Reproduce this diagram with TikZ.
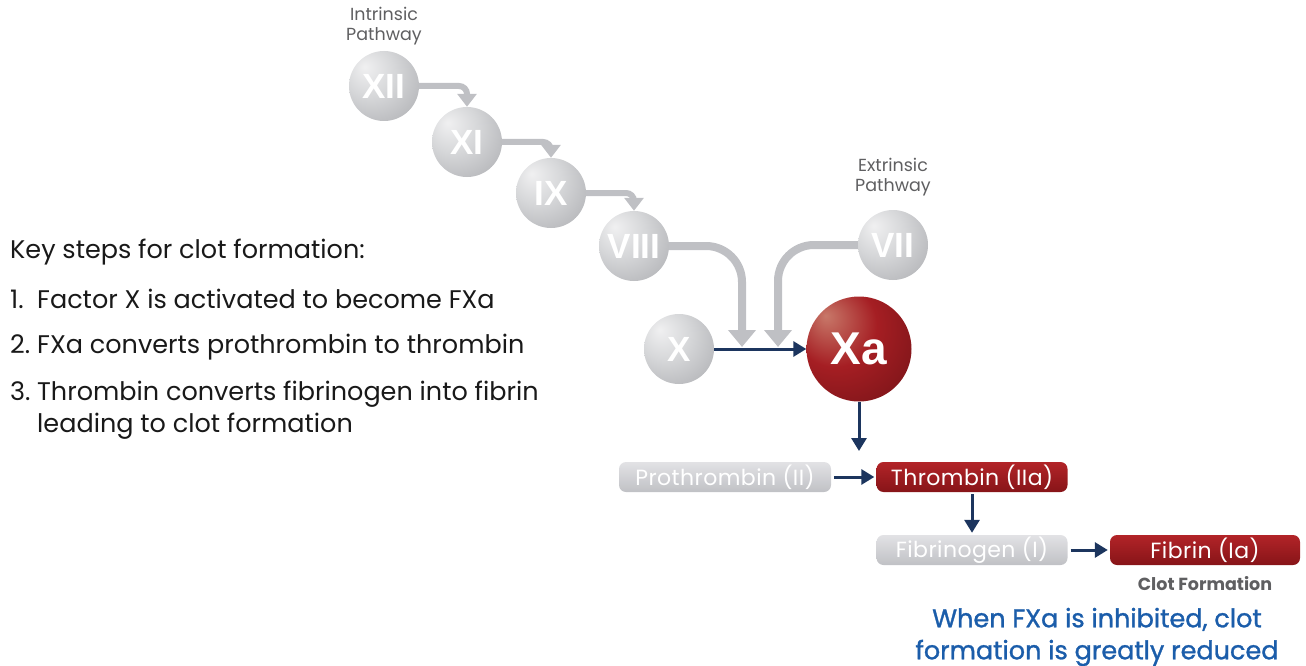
\documentclass[tikz,border=0pt]{standalone}
\usepackage{fontspec}
\setmainfont{Poppins}
\newfontfamily\numfont{Liberation Sans}
\newfontfamily\boxfont{Poppins}[LetterSpace=2]
\newfontfamily\blufont{Poppins}[FakeBold=1.2]
\usetikzlibrary{arrows.meta,positioning}
\definecolor{CoagNavy}{RGB}{28,53,94}
\definecolor{CoagGrey}{RGB}{191,192,196}
\definecolor{CoagBlue}{RGB}{27,93,170}
\definecolor{CoagLabel}{RGB}{95,95,97}
\definecolor{CoagText}{RGB}{25,25,25}
\definecolor{BallLight}{RGB}{240,240,241}
\definecolor{BallMid}{RGB}{214,215,217}
\definecolor{BallDark}{RGB}{165,166,170}
\definecolor{RedLight}{RGB}{200,120,105}
\definecolor{RedMid}{RGB}{165,30,35}
\definecolor{RedDark}{RGB}{105,16,20}
\definecolor{BoxGreyTop}{RGB}{226,226,229}
\definecolor{BoxGreyBot}{RGB}{192,193,197}
\definecolor{BoxRedTop}{RGB}{178,36,40}
\definecolor{BoxRedBot}{RGB}{135,20,24}
\pgfdeclareradialshading{GreyBall}{\pgfpoint{-14bp}{14bp}}{color(0bp)=(BallLight); color(18bp)=(BallMid); color(48bp)=(BallDark); color(70bp)=(BallDark)}
\pgfdeclareradialshading{RedBall}{\pgfpoint{-16bp}{16bp}}{color(0bp)=(RedLight); color(20bp)=(RedMid); color(50bp)=(RedDark); color(70bp)=(RedDark)}

\begin{document}
\begin{tikzpicture}[x=1pt,y=-1pt,
  ball/.style={circle,minimum size=70pt,inner sep=0pt,shading=GreyBall,text=white,font=\numfont\bfseries\fontsize{35}{35}\selectfont},
  redball/.style={ball,minimum size=105pt,shading=RedBall,font=\numfont\bfseries\fontsize{46}{46}\selectfont},
  pathlbl/.style={align=center,text=CoagLabel,font=\fontsize{17.5}{20}\selectfont,inner sep=0pt},
  chainarrow/.style={CoagGrey,line width=6pt,rounded corners=8pt,-{Triangle[width=19pt,length=13pt]}},
  feedarrow/.style={CoagGrey,line width=8pt,rounded corners=36pt,-{Triangle[width=27pt,length=17pt]}},
  navyarrow/.style={CoagNavy,line width=3pt,-{Triangle[width=15pt,length=13pt]}},
  stepbox/.style={rounded corners=7pt,minimum height=30pt,inner sep=0pt,text=white,font=\boxfont\fontsize{22}{22}\selectfont},
  greybox/.style={stepbox,top color=BoxGreyTop,bottom color=BoxGreyBot},
  redbox/.style={stepbox,top color=BoxRedTop,bottom color=BoxRedBot},
  steptxt/.style={anchor=west,inner sep=0pt,text=CoagText,align=left,font=\fontsize{25.5}{32}\selectfont}]
\useasboundingbox (0,0) rectangle (1306,666);

% factor balls
\foreach \nm/\lbl/\cx/\cy in {n0/XII/384/86,n1/XI/467/142,n2/IX/551/193,n3/VIII/634/246,n5/VII/893/245,n4/X/679/349} {
   \node[ball] (\nm) at (\cx,\cy) {\lbl};
}
\node[redball] (n6) at (859,349) {Xa};
\node[pathlbl,above=6pt of n0] (l0) {Intrinsic\\Pathway};
\node[pathlbl,above=14pt of n5] (l1) {Extrinsic\\Pathway};

% cascade arrows
\foreach \a/\b in {n0/n1,n1/n2,n2/n3} {
   \draw[chainarrow] (\a.east) -| (\b.north);
}
\coordinate (j0) at (742,347);
\coordinate (j1) at (778,347);
\draw[feedarrow] (n3.east) -| (j0);
\draw[feedarrow] (n5.west) -| (j1);
\draw[navyarrow] (n4.east) -- (n6.west);
\coordinate (j2) at (859,451);
\draw[navyarrow] (n6.south) -- (j2);

% conversion boxes
\node[greybox,minimum width=212pt] (b0) at (725,477) {Prothrombin (II)};
\node[redbox,minimum width=191pt] (b1) at (972,477) {Thrombin (IIa)};
\node[greybox,minimum width=191pt] (b2) at (972,550) {Fibrinogen (I)};
\node[redbox,minimum width=190pt] (b3) at (1205,550) {Fibrin (Ia)};
\draw[navyarrow,shorten <=3pt,shorten >=2pt] (b0) -- (b1);
\draw[navyarrow,shorten <=2pt,shorten >=2pt] (b1) -- (b2);
\draw[navyarrow,shorten <=3pt,shorten >=2pt] (b2) -- (b3);
\node[text=CoagLabel,font=\bfseries\fontsize{17.5}{17.5}\selectfont] (l2) at (1205,584) {Clot Formation};
\node[align=center,text=CoagBlue,font=\blufont\fontsize{25.5}{32}\selectfont] (l3) at (1097,637) {When FXa is inhibited, clot\\formation is greatly reduced};

% key steps
\node[steptxt] (s0) at (10,252) {Key steps for clot formation:};
\node[steptxt] (s1) at (10,299) {\makebox[27pt][l]{1.}Factor X is activated to become FXa};
\node[steptxt] (s2) at (10,347) {\makebox[27pt][l]{2.}FXa converts prothrombin to thrombin};
\node[steptxt] (s3) at (10,410) {\makebox[27pt][l]{3.}Thrombin converts fibrinogen into fibrin\\\hspace*{27pt}leading to clot formation};
\end{tikzpicture}
\end{document}
